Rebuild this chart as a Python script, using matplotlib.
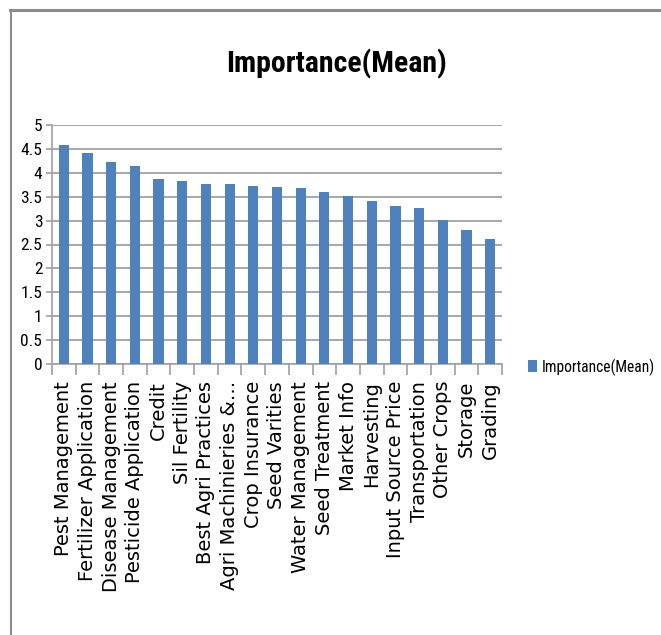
import matplotlib
matplotlib.use("Agg")
import matplotlib.pyplot as plt
from matplotlib import font_manager
from matplotlib.lines import Line2D
import numpy as np

categories = ["Pest Management", "Fertilizer Application", "Disease Management",
              "Pesticide Application", "Credit", "Sil Fertility", "Best Agri Practices",
              "Agri Machinieries &\u2026", "Crop Insurance", "Seed Varities",
              "Water Management", "Seed Treatment", "Market Info", "Harvesting",
              "Input Source Price", "Transportation", "Other Crops", "Storage", "Grading"]
values = [4.58, 4.41, 4.22, 4.14, 3.87, 3.82, 3.76, 3.76, 3.73, 3.70,
          3.67, 3.59, 3.51, 3.41, 3.30, 3.27, 3.01, 2.80, 2.61]
yticks = [0, 0.5, 1, 1.5, 2, 2.5, 3, 3.5, 4, 4.5, 5]
ytick_labels = ["0", "0.5", "1", "1.5", "2", "2.5", "3", "3.5", "4", "4.5", "5"]
series_name = "Importance(Mean)"

available = {f.name for f in font_manager.fontManager.ttflist}
narrow = "Liberation Sans"
for cand in ["Liberation Sans Narrow", "Roboto Condensed", "Open Sans Condensed",
             "DejaVu Sans Condensed"]:
    if cand in available:
        narrow = cand
        break

W, H = 661, 635
fig = plt.figure(figsize=(W / 100, H / 100), dpi=100)
ax = fig.add_axes([52 / W, 1 - 364.3 / H, 450 / W, 239.6 / H])

x = np.arange(len(categories))
bars = ax.bar(x, values, width=0.43, color="#4F81BD", zorder=3, label=series_name)

ax.set_xlim(-0.5, len(categories) - 0.5)
ax.set_ylim(0, 5)
ax.set_yticks(yticks)
ax.set_yticklabels(ytick_labels, fontfamily=narrow, fontsize=12.5)
ax.yaxis.grid(True, color="#a0a0a0", linewidth=1.3, zorder=0)
ax.set_axisbelow(True)

ax.set_xticks(x)
ax.set_xticklabels(categories, rotation=90, fontfamily="DejaVu Sans", fontsize=14,
                   va="top", ha="center")
ax.tick_params(axis="x", which="major", length=0, pad=12)
ax.set_xticks(np.arange(-0.5, len(categories), 1), minor=True)
ax.tick_params(axis="x", which="minor", length=8, color="#a0a0a0", width=1.2)
ax.tick_params(axis="y", length=4, color="#a0a0a0", width=1.2, pad=3)

for s in ["top", "right"]:
    ax.spines[s].set_visible(False)
for s in ["left", "bottom"]:
    ax.spines[s].set_color("#a0a0a0")
    ax.spines[s].set_linewidth(1.2)

fig.text(336.5 / W, 1 - 64 / H, series_name, fontfamily=narrow, fontweight="bold",
         fontsize=21.5, ha="center", va="center")

leg = fig.legend(handles=[bars], labels=[series_name], loc="center left",
                 bbox_to_anchor=(522 / W, 1 - 367 / H), frameon=False,
                 prop={"family": narrow, "size": 11.2}, handlelength=0.55,
                 handleheight=0.8, handletextpad=0.3, borderaxespad=0)

fig.add_artist(Line2D([10 / W, 1], [1 - 10 / H, 1 - 10 / H], transform=fig.transFigure,
                      color="#8c8c8c", linewidth=2.2))
fig.add_artist(Line2D([11 / W, 11 / W], [0, 1 - 10 / H], transform=fig.transFigure,
                      color="#8c8c8c", linewidth=1.5))

fig.savefig("out.png", dpi=100)
